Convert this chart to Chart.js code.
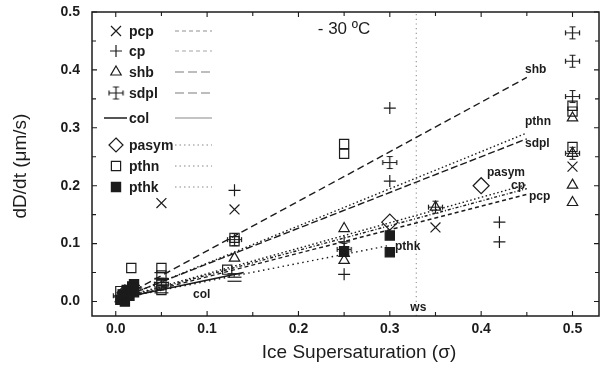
<!DOCTYPE html>
<html>
<head>
<meta charset="utf-8">
<script src="https://cdn.jsdelivr.net/npm/chart.js@4/dist/chart.umd.min.js"></script>
<style>
  html, body { margin: 0; padding: 0; background: #fff; }
  canvas { display: block; }
</style>
</head>
<body>
<canvas id="c" width="602" height="366"></canvas>
<script>
// ---- measured growth rates dD/dt (um/s) against ice supersaturation ----
const pcpX   = [0.01, 0.02, 0.05, 0.13, 0.35, 0.5];
const pcpY   = [0.012, 0.02, 0.17, 0.159, 0.128, 0.233];

const cpX    = [0.01, 0.02, 0.13, 0.25, 0.25, 0.3, 0.3, 0.42, 0.42];
const cpY    = [0.01, 0.028, 0.192, 0.103, 0.047, 0.334, 0.208, 0.137, 0.103];

const shbX   = [0.005, 0.015, 0.13, 0.25, 0.25, 0.25, 0.35, 0.5, 0.5, 0.5, 0.5];
const shbY   = [0.005, 0.015, 0.075, 0.126, 0.083, 0.071, 0.163, 0.317, 0.256, 0.201, 0.171];

const sdplX  = [0.005, 0.01, 0.02, 0.05, 0.13, 0.25, 0.3, 0.35, 0.5, 0.5, 0.5, 0.5];
const sdplY  = [0.01, 0.015, 0.022, 0.03, 0.107, 0.09, 0.24, 0.163, 0.464, 0.415, 0.354, 0.256];

const colX   = [0.005, 0.01, 0.02, 0.05, 0.05, 0.05, 0.05, 0.05, 0.13, 0.13, 0.13];
const colY   = [0.008, 0.004, 0.012, 0.05, 0.04, 0.033, 0.025, 0.015, 0.048, 0.042, 0.035];

const pasymX = [0.01, 0.3, 0.4];
const pasymY = [0.015, 0.137, 0.2];

const pthnX  = [0.005, 0.017, 0.05, 0.05, 0.05, 0.05, 0.122, 0.13, 0.13, 0.25, 0.25, 0.5, 0.5, 0.5];
const pthnY  = [0.018, 0.058, 0.058, 0.045, 0.03, 0.02, 0.055, 0.11, 0.104, 0.272, 0.255, 0.338, 0.328, 0.267];

const pthkX  = [0.005, 0.008, 0.01, 0.012, 0.015, 0.018, 0.02, 0.02, 0.25, 0.3, 0.3];
const pthkY  = [0.003, 0.012, 0.0, 0.02, 0.01, 0.026, 0.016, 0.03, 0.087, 0.114, 0.085];

// ---- linear fits (start / end of each fitted line) ----
const pcpFitX   = [0, 0.45];  const pcpFitY   = [0.002, 0.185];
const cpFitX    = [0, 0.45];  const cpFitY    = [0.003, 0.195];
const shbFitX   = [0, 0.45];  const shbFitY   = [0.002, 0.387];
const sdplFitX  = [0, 0.45];  const sdplFitY  = [0.003, 0.281];
const colFitX   = [0, 0.14];  const colFitY   = [0.004, 0.05];
const pasymFitX = [0, 0.45];  const pasymFitY = [0.004, 0.202];
const pthnFitX  = [0, 0.45];  const pthnFitY  = [0.002, 0.291];
const pthkFitX  = [0, 0.30];  const pthkFitY  = [0.004, 0.097];

// water saturation marker
const wsX = [0.329, 0.329];
const wsY = [-0.025, 0.5];

// axis ticks
const xTickValues = [0, 0.1, 0.2, 0.3, 0.4, 0.5];
const yTickValues = [0, 0.1, 0.2, 0.3, 0.4, 0.5];

const INK = '#1c1c1c';
const FONT = '"Liberation Sans", Arial, sans-serif';
const pts = (xs, ys) => xs.map((x, i) => ({ x, y: ys[i] }));

// plus sign with bar caps, used for the sdpl points
function sdplGlyph() {
  const c = document.createElement('canvas');
  c.width = 17; c.height = 15;
  const g = c.getContext('2d');
  g.strokeStyle = INK; g.lineWidth = 1.2;
  g.beginPath();
  g.moveTo(1.5, 7.5); g.lineTo(15.5, 7.5);
  g.moveTo(1.5, 5); g.lineTo(1.5, 10);
  g.moveTo(15.5, 5); g.lineTo(15.5, 10);
  g.moveTo(8.5, 1.5); g.lineTo(8.5, 13.5);
  g.moveTo(5.5, 1.5); g.lineTo(11.5, 1.5);
  g.moveTo(5.5, 13.5); g.lineTo(11.5, 13.5);
  g.stroke();
  return c;
}
const sdplImg = sdplGlyph();

function pointSet(label, xs, ys, style, radius, filled) {
  return {
    label, data: pts(xs, ys), pointStyle: style, pointRadius: radius,
    pointHoverRadius: radius, borderColor: INK, pointBorderWidth: 1.2,
    backgroundColor: filled ? INK : 'rgba(0,0,0,0)', showLine: false, order: 1
  };
}
function fitSet(label, xs, ys, dash, width) {
  return {
    label, data: pts(xs, ys), showLine: true, borderColor: INK,
    borderWidth: width || 1.4, borderDash: dash, pointRadius: 0,
    pointHoverRadius: 0, fill: false, tension: 0, order: 2
  };
}

const datasets = [
  pointSet('pcp', pcpX, pcpY, 'crossRot', 7),
  pointSet('cp', cpX, cpY, 'cross', 6),
  pointSet('shb', shbX, shbY, 'triangle', 6),
  pointSet('sdpl', sdplX, sdplY, sdplImg, 7),
  pointSet('col', colX, colY, 'line', 7),
  pointSet('pasym', pasymX, pasymY, 'rectRot', 8),
  pointSet('pthn', pthnX, pthnY, 'rect', 6.5),
  pointSet('pthk', pthkX, pthkY, 'rect', 6.5, true),
  fitSet('pcp fit', pcpFitX, pcpFitY, [4, 3]),
  fitSet('cp fit', cpFitX, cpFitY, [3, 2, 1, 2]),
  fitSet('shb fit', shbFitX, shbFitY, [7, 4]),
  fitSet('sdpl fit', sdplFitX, sdplFitY, [7, 3]),
  fitSet('col fit', colFitX, colFitY, [], 1.5),
  fitSet('pasym fit', pasymFitX, pasymFitY, [1.5, 2.5]),
  fitSet('pthn fit', pthnFitX, pthnFitY, [1.5, 2.5]),
  fitSet('pthk fit', pthkFitX, pthkFitY, [1.5, 3.5]),
  { label: 'ws', data: pts(wsX, wsY), showLine: true, borderColor: '#9a9a9a',
    borderWidth: 1.2, borderDash: [1.2, 3.5], pointRadius: 0, pointHoverRadius: 0, order: 3 }
];

// legend rows: marker, name and a grey sample of the fit line style
const legendRows = [
  { name: 'pcp',   mark: 'x',     dash: [4, 3],   grey: '#b5b5b5', y: 31 },
  { name: 'cp',    mark: '+',     dash: [4, 3],   grey: '#c4c4c4', y: 51 },
  { name: 'shb',   mark: 'tri',   dash: [9, 4],   grey: '#a8a8a8', y: 72 },
  { name: 'sdpl',  mark: 'sdpl',  dash: [9, 4],   grey: '#a8a8a8', y: 93 },
  { name: 'col',   mark: 'line',  dash: [],       grey: '#b0b0b0', y: 118 },
  { name: 'pasym', mark: 'dia',   dash: [1.5, 3], grey: '#b0b0b0', y: 145 },
  { name: 'pthn',  mark: 'sq',    dash: [1.5, 3], grey: '#b0b0b0', y: 166 },
  { name: 'pthk',  mark: 'fsq',   dash: [1.5, 3], grey: '#b0b0b0', y: 187 }
];

function drawMark(ctx, kind, x, y) {
  ctx.save();
  ctx.strokeStyle = INK; ctx.fillStyle = INK; ctx.lineWidth = 1.2;
  ctx.beginPath();
  if (kind === 'x') {
    ctx.moveTo(x - 5, y - 5); ctx.lineTo(x + 5, y + 5);
    ctx.moveTo(x - 5, y + 5); ctx.lineTo(x + 5, y - 5); ctx.stroke();
  } else if (kind === '+') {
    ctx.moveTo(x - 6, y); ctx.lineTo(x + 6, y);
    ctx.moveTo(x, y - 6); ctx.lineTo(x, y + 6); ctx.stroke();
  } else if (kind === 'tri') {
    ctx.moveTo(x, y - 6); ctx.lineTo(x + 5.2, y + 3); ctx.lineTo(x - 5.2, y + 3);
    ctx.closePath(); ctx.stroke();
  } else if (kind === 'sdpl') {
    ctx.drawImage(sdplImg, x - 8.5, y - 7.5);
  } else if (kind === 'line') {
    ctx.moveTo(x - 12, y); ctx.lineTo(x + 11, y); ctx.lineWidth = 1.5; ctx.stroke();
  } else if (kind === 'dia') {
    ctx.moveTo(x, y - 7); ctx.lineTo(x + 7, y); ctx.lineTo(x, y + 7); ctx.lineTo(x - 7, y);
    ctx.closePath(); ctx.stroke();
  } else if (kind === 'sq') {
    ctx.rect(x - 4.6, y - 4.6, 9.2, 9.2); ctx.stroke();
  } else if (kind === 'fsq') {
    ctx.rect(x - 4.6, y - 4.6, 9.2, 9.2); ctx.fill(); ctx.stroke();
  }
  ctx.restore();
}

const decor = {
  id: 'decor',
  afterDatasetsDraw(chart) {
    const { ctx, chartArea: a, scales: { x: sx, y: sy } } = chart;
    ctx.save();
    // frame
    ctx.strokeStyle = INK; ctx.lineWidth = 1.5;
    ctx.strokeRect(a.left, a.top, a.right - a.left, a.bottom - a.top);
    // inward ticks on all four sides, every 0.05
    ctx.lineWidth = 1.1;
    ctx.beginPath();
    for (let k = 0; k <= 10; k++) {
      const v = k * 0.05, len = k % 2 === 0 ? 5 : 4;
      const px = sx.getPixelForValue(v);
      ctx.moveTo(px, a.bottom); ctx.lineTo(px, a.bottom - len);
      ctx.moveTo(px, a.top); ctx.lineTo(px, a.top + len);
      const py = sy.getPixelForValue(v);
      ctx.moveTo(a.left, py); ctx.lineTo(a.left + len, py);
      ctx.moveTo(a.right, py); ctx.lineTo(a.right - len, py);
    }
    ctx.stroke();

    // axis titles
    ctx.fillStyle = INK;
    ctx.font = '19px ' + FONT;
    ctx.textAlign = 'center'; ctx.textBaseline = 'middle';
    ctx.fillText('Ice Supersaturation (\u03c3)', 359, 353);
    ctx.save();
    ctx.translate(21, 166); ctx.rotate(-Math.PI / 2);
    ctx.fillText('dD/dt (\u03bcm/s)', 0, 0);
    ctx.restore();

    // temperature note
    ctx.font = '17px ' + FONT;
    ctx.fillText('- 30 \u00baC', 344, 29);

    // labels at the end of each fitted line
    ctx.font = 'bold 12px ' + FONT;
    ctx.textAlign = 'left';
    const tag = (t, x, y) => ctx.fillText(t, x, y);
    tag('shb', 525, 70);
    tag('pthn', 525, 122);
    tag('sdpl', 525, 144);
    tag('pasym', 487, 173);
    tag('cp', 511, 186);
    tag('pcp', 529, 197);
    tag('pthk', 395, 247);
    tag('col', 193, 295);
    ctx.textAlign = 'center';
    tag('ws', sx.getPixelForValue(wsX[0]) + 2, 308);

    // legend
    ctx.font = 'bold 14px ' + FONT;
    ctx.textAlign = 'left';
    legendRows.forEach(r => {
      drawMark(ctx, r.mark, 116, r.y);
      ctx.fillStyle = INK;
      ctx.fillText(r.name, 129, r.y + 1);
      ctx.save();
      ctx.strokeStyle = r.grey; ctx.lineWidth = 1.4; ctx.setLineDash(r.dash);
      ctx.beginPath(); ctx.moveTo(175, r.y); ctx.lineTo(212, r.y); ctx.stroke();
      ctx.restore();
    });
    ctx.restore();
  }
};

new Chart(document.getElementById('c'), {
  type: 'scatter',
  data: { datasets },
  options: {
    responsive: false, animation: false, devicePixelRatio: 1,
    layout: { autoPadding: false, padding: { top: 12, right: 3, left: 0, bottom: 0 } },
    plugins: { legend: { display: false }, tooltip: { enabled: false } },
    scales: {
      x: {
        type: 'linear', min: -0.026, max: 0.529,
        grid: { display: false, drawTicks: false }, border: { display: false },
        afterBuildTicks: s => { s.ticks = xTickValues.map(v => ({ value: v })); },
        afterFit: s => { s.height = 50; s.paddingLeft = 0; s.paddingRight = 0; },
        ticks: {
          padding: 5, color: INK, autoSkip: false, maxRotation: 0,
          font: { family: FONT, size: 14, weight: 'bold' },
          callback: v => Number(v).toFixed(1)
        }
      },
      y: {
        type: 'linear', min: -0.025, max: 0.5,
        grid: { display: false, drawTicks: false }, border: { display: false },
        afterBuildTicks: s => { s.ticks = yTickValues.map(v => ({ value: v })); },
        afterFit: s => { s.width = 92; s.paddingTop = 0; s.paddingBottom = 0; },
        ticks: {
          padding: 12, color: INK, autoSkip: false,
          font: { family: FONT, size: 14, weight: 'bold' },
          callback: v => Number(v).toFixed(1)
        }
      }
    }
  },
  plugins: [decor]
});
</script>
</body>
</html>
